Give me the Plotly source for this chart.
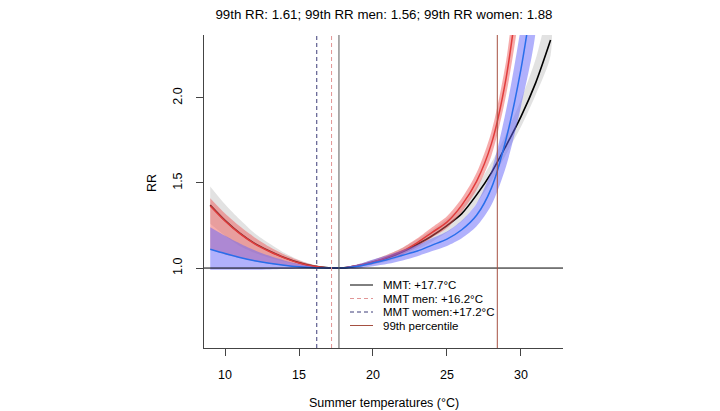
import plotly.graph_objects as go

# ---- data ----
temps = [9, 10, 11, 12, 13, 14, 15, 16, 17, 17.7, 18, 19, 20, 21, 22, 23, 24, 25, 26, 27, 28, 29, 30, 31, 32]

rr_all = [1.37, 1.28, 1.205, 1.145, 1.10, 1.062, 1.032, 1.012, 1.002, 1.0, 1.001, 1.015, 1.035, 1.06, 1.095, 1.14,
          1.19, 1.25, 1.32, 1.43, 1.56, 1.72, 1.89, 2.09, 2.34]
rr_all_lo = [1.26, 1.19, 1.13, 1.09, 1.06, 1.038, 1.018, 1.006, 1.0, 1.0, 0.999, 1.008, 1.022, 1.04, 1.07, 1.11,
             1.155, 1.21, 1.275, 1.38, 1.51, 1.67, 1.83, 2.02, 2.25]
rr_all_hi = [1.48, 1.375, 1.285, 1.205, 1.145, 1.09, 1.048, 1.02, 1.004, 1.0, 1.003, 1.022, 1.048, 1.08, 1.12, 1.17,
             1.225, 1.29, 1.365, 1.48, 1.62, 1.79, 1.99, 2.23, 2.55]

temps_red = [9, 10, 11, 12, 13, 14, 15, 16, 17, 17.7, 18, 19, 20, 21, 22, 23, 24, 25, 26, 27, 28, 29, 30]
rr_red = [1.365, 1.277, 1.202, 1.142, 1.097, 1.06, 1.03, 1.01, 1.0, 1.0, 1.001, 1.015, 1.035, 1.065, 1.10, 1.15,
          1.21, 1.27, 1.37, 1.51, 1.73, 2.12, 2.75]
rr_red_lo = [1.11, 1.08, 1.06, 1.04, 1.025, 1.013, 1.005, 1.001, 1.0, 0.999, 0.999, 1.008, 1.022, 1.05, 1.08, 1.125,
             1.18, 1.235, 1.33, 1.46, 1.66, 2.02, 2.6]
rr_red_hi = [1.41, 1.32, 1.245, 1.18, 1.125, 1.08, 1.045, 1.018, 1.003, 1.002, 1.003, 1.022, 1.048, 1.08, 1.12, 1.175,
             1.24, 1.305, 1.41, 1.56, 1.80, 2.22, 2.9]

temps_blue = [9, 10, 11, 12, 13, 14, 15, 16, 17, 17.7, 18, 19, 20, 21, 22, 23, 24, 25, 26, 27, 28, 29, 30, 31]
rr_blue = [1.11, 1.085, 1.062, 1.043, 1.028, 1.016, 1.007, 1.002, 1.0, 1.0, 1.0, 1.01, 1.03, 1.05, 1.075, 1.10,
           1.135, 1.17, 1.225, 1.31, 1.47, 1.76, 2.17, 2.72]
rr_blue_lo = [0.99, 0.99, 0.99, 0.99, 0.992, 0.994, 0.996, 0.998, 0.999, 0.997, 0.995, 0.998, 1.01, 1.025, 1.045, 1.07,
              1.10, 1.13, 1.175, 1.245, 1.37, 1.60, 1.95, 2.4]
rr_blue_hi = [1.24, 1.19, 1.145, 1.105, 1.072, 1.045, 1.024, 1.008, 1.001, 1.003, 1.005, 1.022, 1.05, 1.075, 1.105, 1.135,
              1.175, 1.215, 1.28, 1.38, 1.57, 1.93, 2.42, 3.05]

mmt_all = 17.7
mmt_a = 16.2   # blue dashed position
mmt_b = 17.2   # red dashed position
p99 = 28.4

title_text = "99th RR: 1.61; 99th RR men: 1.56; 99th RR women: 1.88"
legend_labels = ["MMT: +17.7°C", "MMT men: +16.2°C", "MMT women:+17.2°C", "99th percentile"]
x_ticks = [10, 15, 20, 25, 30]
y_ticks = [1.0, 1.5, 2.0]

# ---- styles ----
FONT = "Liberation Sans, Arial, Helvetica, sans-serif"
gray_fill = "rgba(190,190,190,0.45)"
red_fill = "rgba(238,90,90,0.5)"
blue_fill = "rgba(100,100,250,0.5)"
red_line = "rgb(225,60,60)"
blue_line = "rgb(40,110,235)"
c_vblue = "rgb(60,60,120)"
c_vred = "rgb(225,150,150)"
c_vblack = "rgb(90,90,90)"
c_brown = "rgb(165,80,65)"
DASH = "4px,3px"

# page body has an 8px margin; figure coords = screen coords - OFF
OFF = 8
FW, FH = 712, 403
L, T, W, H = 204 - OFF, 35 - OFF, 359, 313


def px_x(p):
    return (p - OFF - L) / W


def px_y(p):
    return 1 - (p - OFF - T) / H


def band(xs, lo, hi, color):
    return go.Scatter(x=list(xs) + list(xs)[::-1], y=list(hi) + list(lo)[::-1],
                      fill="toself", fillcolor=color, line=dict(width=0, shape="spline", smoothing=0.8),
                      mode="lines", hoverinfo="skip", showlegend=False)


fig = go.Figure()
fig.add_trace(band(temps, rr_all_lo, rr_all_hi, gray_fill))
fig.add_trace(go.Scatter(x=temps, y=rr_all, mode="lines", showlegend=False,
                         line=dict(color="black", width=1.6, shape="spline", smoothing=0.8)))
fig.add_trace(band(temps_red, rr_red_lo, rr_red_hi, red_fill))
fig.add_trace(go.Scatter(x=temps_red, y=rr_red, mode="lines", showlegend=False,
                         line=dict(color=red_line, width=1.5, shape="spline", smoothing=0.8)))
fig.add_trace(band(temps_blue, rr_blue_lo, rr_blue_hi, blue_fill))
fig.add_trace(go.Scatter(x=temps_blue, y=rr_blue, mode="lines", showlegend=False,
                         line=dict(color=blue_line, width=1.5, shape="spline", smoothing=0.8)))

# reference lines
fig.add_hline(y=1.0, line=dict(color="black", width=1))
fig.add_vline(x=mmt_a, line=dict(color=c_vblue, width=1, dash=DASH))
fig.add_vline(x=mmt_b, line=dict(color=c_vred, width=1, dash=DASH))
fig.add_vline(x=mmt_all, line=dict(color=c_vblack, width=1))
fig.add_vline(x=p99, line=dict(color=c_brown, width=1))

# manual legend (R style, no box)
leg_styles = [("black", "solid"), (c_vred, DASH), (c_vblue, DASH), (c_brown, "solid")]
row_y = [285, 298.5, 312, 325.5]
for lab, (col, dsh), ry in zip(legend_labels, leg_styles, row_y):
    fig.add_shape(type="line", xref="paper", yref="paper", x0=px_x(350), x1=px_x(373),
                  y0=px_y(ry), y1=px_y(ry), line=dict(color=col, width=1, dash=dsh))
    fig.add_annotation(xref="paper", yref="paper", x=px_x(381), y=px_y(ry), text=lab, showarrow=False,
                       xanchor="left", yanchor="middle", font=dict(size=11.5, color="black", family=FONT))

# axis titles
fig.add_annotation(xref="paper", yref="paper", x=px_x(384), y=px_y(403), text="Summer temperatures (°C)",
                   showarrow=False, xanchor="center", yanchor="middle", font=dict(size=12.5, family=FONT, color="black"))
fig.add_annotation(xref="paper", yref="paper", x=px_x(152), y=px_y(183), text="RR", textangle=-90,
                   showarrow=False, xanchor="center", yanchor="middle", font=dict(size=12.5, family=FONT, color="black"))

fig.update_layout(
    width=FW, height=FH,
    margin=dict(l=L, r=FW - L - W, t=T, b=FH - T - H),
    paper_bgcolor="white", plot_bgcolor="white",
    font=dict(family=FONT, size=12, color="black"),
    title=dict(text=title_text, x=(384 - OFF) / FW, xanchor="center",
               y=1 - (14 - OFF) / FH, yanchor="middle", yref="container",
               font=dict(size=13.3, family=FONT, color="black")),
    showlegend=False,
)
fig.update_xaxes(range=[8.58, 32.84], tickvals=x_ticks, ticktext=[str(v) for v in x_ticks],
                 showgrid=False, zeroline=False, showline=True, linecolor="#444", linewidth=1,
                 ticks="outside", ticklen=7, tickcolor="#444", ticklabelstandoff=8,
                 tickfont=dict(size=12.5, family=FONT))
fig.update_yaxes(range=[0.53, 2.37], tickvals=y_ticks, ticktext=["%.1f" % v for v in y_ticks],
                 showgrid=False, zeroline=False, showline=True, linecolor="#444", linewidth=1,
                 ticks="outside", ticklen=7, tickcolor="#444", tickangle=-90, ticklabelstandoff=9,
                 tickfont=dict(size=12.5, family=FONT))

fig.write_html("out.html")
